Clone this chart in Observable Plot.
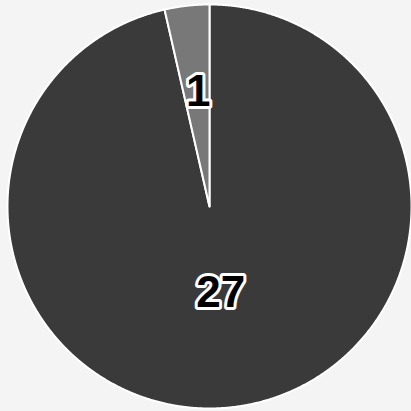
<!DOCTYPE html>
<html>
<head>
<meta charset="utf-8">
<script src="https://cdn.jsdelivr.net/npm/d3@7"></script>
<script src="https://cdn.jsdelivr.net/npm/@observablehq/plot@0.6"></script>
<style>
  html, body { margin: 0; padding: 0; background: #f4f4f4; }
  #chart svg { display: block; }
</style>
</head>
<body>
<div id="chart"></div>
<script>
const categories = ["A", "B"];
const values = [27, 1];
const colors = ["#3a3a3a", "#787878"];

const arcs = d3.pie().sort(null)(values);

const slices = arcs.map((a, i) => {
  const pts = [{x: 0, y: 0}];
  const n = Math.max(2, Math.ceil((a.endAngle - a.startAngle) / 0.005));
  for (let j = 0; j <= n; j++) {
    const t = a.startAngle + (a.endAngle - a.startAngle) * j / n;
    pts.push({x: Math.sin(t), y: Math.cos(t)});
  }
  return {cat: categories[i], pts};
});

const labels = arcs.map((a, i) => {
  const m = (a.startAngle + a.endAngle) / 2;
  return {x: 0.5 * Math.sin(m), y: 0.5 * Math.cos(m), text: String(values[i])};
});

const chart = Plot.plot({
  width: 411,
  height: 411,
  margin: 0,
  style: {background: "#f4f4f4"},
  x: {domain: [-1, 1], range: [7, 411], axis: null},
  y: {domain: [-1, 1], range: [408, 4], axis: null},
  marks: [
    ...slices.map((s, i) => Plot.line(s.pts, {
      x: "x", y: "y", curve: "linear-closed",
      fill: colors[i], stroke: "white", strokeWidth: 2, strokeLinejoin: "round"
    })),
    Plot.text(labels, {
      x: "x", y: "y", text: "text",
      fontSize: 44, fontWeight: "bold", fontFamily: "Liberation Sans, Arial, sans-serif",
      fill: "black", stroke: "white", strokeWidth: 6, lineAnchor: "bottom"
    })
  ]
});
document.getElementById("chart").appendChild(chart);
</script>
</body>
</html>
